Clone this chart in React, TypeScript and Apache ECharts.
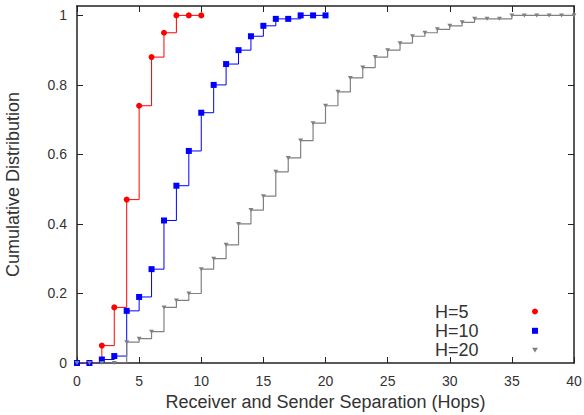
import React, { useEffect, useRef } from "react";
import * as echarts from "echarts";

const seriesNames = ["H=5", "H=10", "H=20"];

const hopsH5 = [0, 1, 2, 3, 4, 5, 6, 7, 8, 9, 10];
const cdfH5 = [0, 0, 0.05, 0.16, 0.47, 0.74, 0.88, 0.95, 1, 1, 1];

const hopsH10 = [0, 1, 2, 3, 4, 5, 6, 7, 8, 9, 10, 11, 12, 13, 14, 15, 16, 17, 18, 19, 20];
const cdfH10 = [0, 0, 0.01, 0.02, 0.15, 0.19, 0.27, 0.41, 0.51, 0.61, 0.72, 0.8, 0.86, 0.9, 0.94, 0.97, 0.99, 0.99, 1, 1, 1];

const hopsH20 = [
  0, 1, 2, 3, 4, 5, 6, 7, 8, 9, 10, 11, 12, 13, 14, 15, 16, 17, 18, 19, 20,
  21, 22, 23, 24, 25, 26, 27, 28, 29, 30, 31, 32, 33, 34, 35, 36, 37, 38, 39, 40,
];
const cdfH20 = [
  0, 0, 0, 0, 0.06, 0.07, 0.09, 0.16, 0.18, 0.2, 0.27, 0.3, 0.34, 0.4, 0.44, 0.48, 0.55, 0.59, 0.64, 0.69, 0.74,
  0.78, 0.82, 0.85, 0.88, 0.9, 0.92, 0.94, 0.95, 0.96, 0.97, 0.98, 0.99, 0.99, 0.99, 1, 1, 1, 1, 1, 1,
];

const yTicks = [0, 0.2, 0.4, 0.6, 0.8, 1];
const yInnerTicks = [0.2, 0.4, 0.6, 0.8];

const FONT = "'Liberation Sans', Arial, Helvetica, sans-serif";
const FRAME = "#222";
const TEXT = "#333";

const pairs = (xs: number[], ys: number[]) => xs.map((x, i) => [x, ys[i]]);

export default function App() {
  const ref = useRef<HTMLDivElement>(null);

  useEffect(() => {
    document.body.style.margin = "0";
    if (!ref.current) return;
    const chart = echarts.init(ref.current, undefined, { renderer: "svg" });

    const axisLine = { show: true, onZero: false, lineStyle: { color: FRAME, width: 1.5 } };
    const tick = { show: true, inside: true, length: 6, lineStyle: { color: FRAME, width: 1 } };

    const triDown = "path://M0,0L10,0L5,8Z";

    chart.setOption({
      animation: false,
      textStyle: { fontFamily: FONT },
      grid: {
        left: 77,
        right: 10,
        top: 6,
        bottom: 52,
        containLabel: false,
        outerBoundsMode: "none",
      },
      xAxis: [
        {
          type: "value",
          min: 0,
          max: 40,
          interval: 5,
          position: "bottom",
          name: "Receiver and Sender Separation (Hops)",
          nameLocation: "middle",
          nameGap: 28,
          nameTextStyle: { fontSize: 18, color: TEXT, fontFamily: FONT },
          axisLine,
          axisTick: tick,
          axisLabel: { fontSize: 14, color: TEXT, margin: 11, fontFamily: FONT },
          splitLine: { show: false },
        },
        {
          type: "value",
          min: 0,
          max: 40,
          interval: 5,
          position: "top",
          axisLine,
          axisTick: tick,
          axisLabel: { show: false },
          splitLine: { show: false },
        },
      ],
      yAxis: [
        {
          type: "value",
          min: 0,
          max: 1.027,
          position: "left",
          name: "Cumulative Distribution",
          nameLocation: "middle",
          nameGap: 55,
          nameTextStyle: { fontSize: 18, color: TEXT, fontFamily: FONT },
          axisLine,
          axisTick: { ...tick, customValues: yTicks },
          axisLabel: {
            fontSize: 14,
            color: TEXT,
            margin: 10,
            fontFamily: FONT,
            customValues: yTicks,
          },
          splitLine: { show: false },
        },
        {
          type: "value",
          min: 0,
          max: 1.027,
          position: "right",
          axisLine,
          axisTick: { ...tick, customValues: yInnerTicks },
          axisLabel: { show: false },
          splitLine: { show: false },
        },
      ],
      legend: [
        {
          orient: "vertical",
          left: 424,
          top: 297.5,
          itemWidth: 1,
          itemHeight: 8,
          itemGap: 1.3,
          icon: "rect",
          itemStyle: { opacity: 0 },
          textStyle: { fontSize: 18, lineHeight: 18, color: TEXT, fontFamily: FONT },
          selectedMode: false,
          data: seriesNames,
        },
        {
          orient: "vertical",
          left: 527,
          top: 297.5,
          itemWidth: 6,
          itemHeight: 6,
          itemGap: 1.3,
          formatter: () => " ",
          textStyle: { fontSize: 18, lineHeight: 18, color: TEXT, fontFamily: FONT },
          selectedMode: false,
          data: [
            { name: seriesNames[0], icon: "circle" },
            { name: seriesNames[1], icon: "rect" },
            { name: seriesNames[2], icon: triDown },
          ],
        },
      ],
      series: [
        {
          name: seriesNames[0],
          type: "line",
          step: "end",
          data: pairs(hopsH5, cdfH5),
          symbol: "circle",
          symbolSize: 6,
          showAllSymbol: true,
          color: "#ff0000",
          lineStyle: { color: "#ff0000", width: 1 },
          itemStyle: { color: "#ff0000" },
        },
        {
          name: seriesNames[1],
          type: "line",
          step: "end",
          data: pairs(hopsH10, cdfH10),
          symbol: "rect",
          symbolSize: 6,
          showAllSymbol: true,
          color: "#0000ff",
          lineStyle: { color: "#0000ff", width: 1 },
          itemStyle: { color: "#0000ff" },
        },
        {
          name: seriesNames[2],
          type: "line",
          step: "end",
          data: pairs(hopsH20, cdfH20),
          symbol: "triangle",
          symbolRotate: 180,
          symbolSize: [5, 4],
          showAllSymbol: true,
          color: "#808080",
          lineStyle: { color: "#808080", width: 1.2 },
          itemStyle: { color: "#808080" },
        },
      ],
    });

    return () => chart.dispose();
  }, []);

  return (
    <div
      ref={ref}
      style={{ width: 584, height: 415, position: "absolute", left: 0, top: 0 }}
    />
  );
}
